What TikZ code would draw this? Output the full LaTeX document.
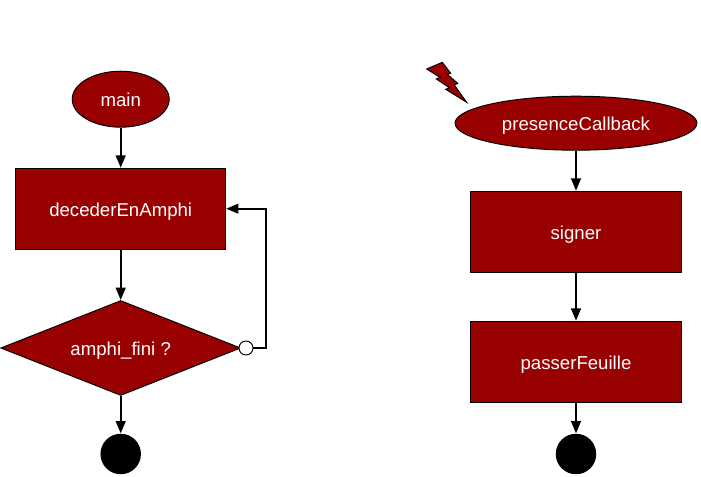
\documentclass[tikz,border=0pt]{standalone}
\usepackage{fontspec}
\setmainfont{Liberation Sans}
\usetikzlibrary{shapes.geometric, arrows.meta}
\definecolor{blocRed}{RGB}{153, 0, 0}
\tikzset{
    bloc/.style={draw=black, fill=blocRed, text=white, line width=0.55pt, text height=8.2pt, text depth=0pt, font=\fontsize{10.6}{12}\selectfont},
    action/.style={bloc, rectangle, text height=9pt, minimum width=4.2cm, minimum height=1.62cm},
    event/.style={bloc, ellipse, inner sep=0pt},
    choice/.style={bloc, diamond, aspect=2.54, inner sep=0pt, minimum width=4.8cm, minimum height=1.9cm},
    final/.style={circle, fill=black, inner sep=0pt, minimum size=0.81cm},
    flow/.style={->, line width=1.2pt}
}
\begin{document}
\begin{tikzpicture}[x=0.02cm, y=-0.02cm, >={Triangle[length=7pt, width=5.5pt]}]
    \useasboundingbox (0,0) rectangle (701,477);

    % Colonne gauche
    \node[event, minimum width=1.94cm, minimum height=1.12cm] (main) at (120.7,99.2) {main};
    \node[action] (decider) at (120.7,208.7) {decederEnAmphi};
    \node[choice] (fini) at (120.7,348) {amphi\_fini ?};
    \node[final] (endLeft) at (120.7,454) {};
    \node[circle, draw=black, fill=white, line width=0.55pt, inner sep=0pt, minimum size=0.28cm] (loopDot) at (246,348) {};
    \coordinate (loopCorner) at (266,348);

    \draw[flow] (main) -- (decider);
    \draw[flow] (decider) -- (fini);
    \draw[flow] (fini) -- (endLeft);
    \draw[flow] (loopDot) -- (loopCorner) |- (decider);

    % Colonne droite
    \node[event, minimum width=4.84cm, minimum height=1.08cm] (callback) at (576,123.2) {presenceCallback};
    \node[action, minimum width=4.22cm] (signer) at (576,231.7) {signer};
    \node[action, minimum width=4.22cm] (passer) at (576,361.7) {passerFeuille};
    \node[final] (endRight) at (576,454) {};

    \draw[flow] (callback) -- (signer);
    \draw[flow] (signer) -- (passer);
    \draw[flow] (passer) -- (endRight);

    % Eclair
    \draw[fill=blocRed, line width=0.55pt, line join=miter] (426.7,69) -- (442.3,62.3) -- (450.7,73.3) -- (447.3,74.3)
        -- (457.7,83.3) -- (454.3,85) -- (466.7,102.3) -- (445.7,89.3) -- (449.3,87.7)
        -- (436.3,79) -- (440,77.3) -- cycle;
\end{tikzpicture}
\end{document}
